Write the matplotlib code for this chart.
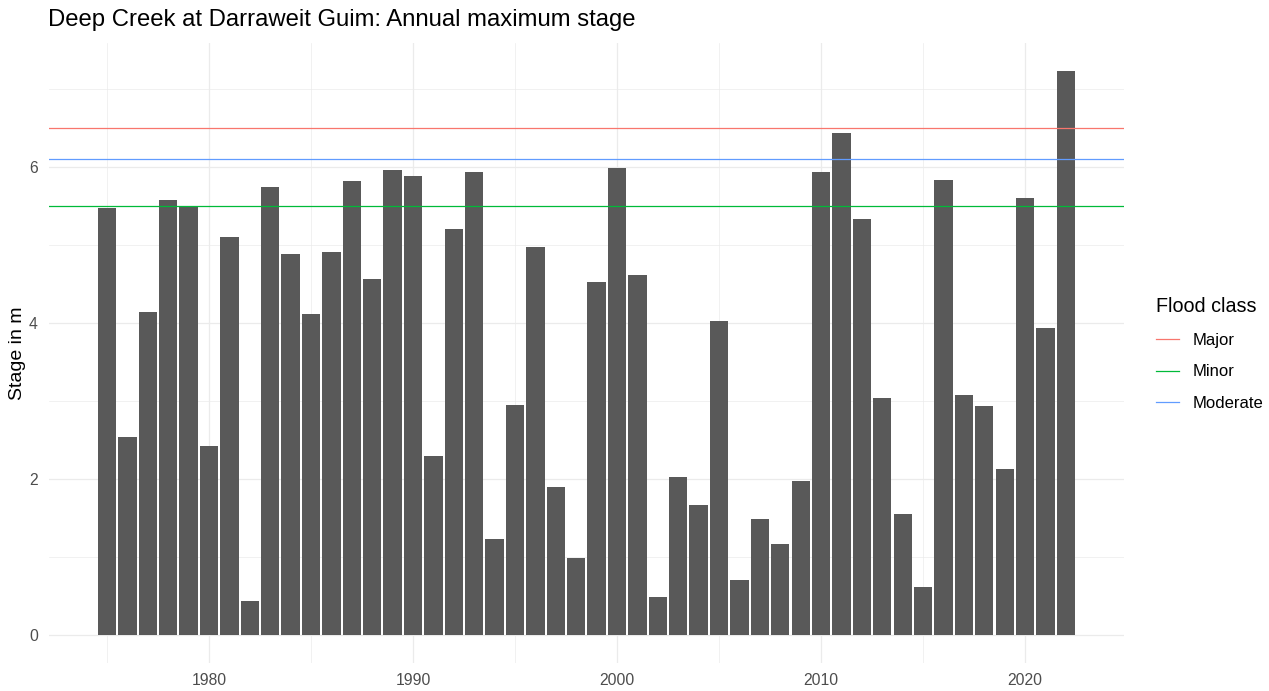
import matplotlib
matplotlib.use("Agg")
import matplotlib.pyplot as plt
from matplotlib.lines import Line2D
from matplotlib.ticker import MultipleLocator

plt.rcParams['font.family'] = ['Liberation Sans', 'DejaVu Sans']

years = list(range(1975, 2023))
stage = [5.47, 2.54, 4.14, 5.58, 5.50, 2.42, 5.10, 0.43, 5.75, 4.88,
         4.12, 4.91, 5.82, 4.57, 5.96, 5.89, 2.30, 5.20, 5.94, 1.23,
         2.95, 4.98, 1.90, 0.99, 4.52, 5.99, 4.62, 0.49, 2.02, 1.66,
         4.03, 0.70, 1.49, 1.16, 1.97, 5.94, 6.44, 5.34, 3.04, 1.55,
         0.61, 5.83, 3.07, 2.93, 2.13, 5.60, 3.93, 7.23]

flood_classes = ["Major", "Minor", "Moderate"]
flood_levels = [6.5, 5.5, 6.1]
flood_colors = ["#F8766D", "#00BA38", "#619CFF"]

fig = plt.figure(figsize=(12.69, 6.91), dpi=100)
ax = fig.add_axes([0.0386, 0.0405, 0.8471, 0.8973])

ax.bar(years, stage, width=0.9, color="#595959", zorder=2)
for name, lvl, col in zip(flood_classes, flood_levels, flood_colors):
    ax.axhline(lvl, color=col, lw=0.9, zorder=3)

ymax = max(stage)
ax.set_ylim(-0.05 * ymax, ymax * 1.05)
x0, x1 = years[0] - 0.45, years[-1] + 0.45
pad = (x1 - x0) * 0.05
ax.set_xlim(x0 - pad, x1 + pad)

ax.xaxis.set_major_locator(MultipleLocator(10))
ax.xaxis.set_minor_locator(MultipleLocator(5))
ax.yaxis.set_major_locator(MultipleLocator(2))
ax.yaxis.set_minor_locator(MultipleLocator(1))
ax.grid(which="major", color="#EBEBEB", lw=0.9, zorder=0)
ax.grid(which="minor", color="#EBEBEB", lw=0.5, zorder=0)
ax.set_axisbelow(True)
for s in ax.spines.values():
    s.set_visible(False)
ax.tick_params(which="both", length=0, labelsize=11.3, colors="#4D4D4D")
ax.tick_params(axis="y", pad=8)
ax.tick_params(axis="x", pad=7)

ax.set_ylabel("Stage in m", fontsize=14, color="black", labelpad=2)
fig.text(48 / 1269, 1 - 20 / 691, "Deep Creek at Darraweit Guim: Annual maximum stage",
         fontsize=17.2, ha="left", va="center", color="black")

handles = [Line2D([0], [0], color=c, lw=0.9) for c in flood_colors]
leg = fig.legend(handles, flood_classes, title="Flood class", loc="upper left",
                 bbox_to_anchor=(1141 / 1269, 1 - 282 / 691), frameon=False,
                 fontsize=12, title_fontsize=14.2, handlelength=1.4,
                 handletextpad=0.8, labelspacing=1.0, alignment="left")

fig.savefig("out.png", dpi=100)
